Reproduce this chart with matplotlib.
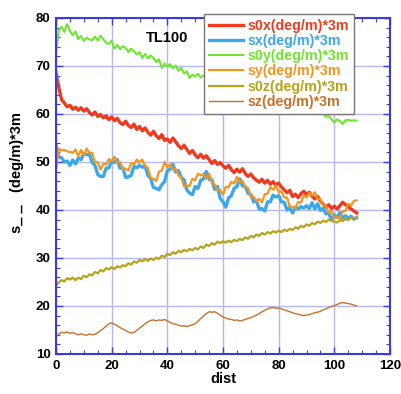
import matplotlib
matplotlib.use("Agg")
import matplotlib.pyplot as plt
from matplotlib.ticker import MultipleLocator

dist = list(range(0, 109))

s0x = [68.6, 65.5, 63.0, 62.3, 61.5, 61.8, 61.0, 61.4, 60.8, 61.3,
       60.6, 61.1, 60.3, 59.8, 60.4, 59.5, 59.9, 59.2, 59.6, 58.8,
       59.4, 58.6, 59.1, 58.2, 57.8, 58.5, 57.6, 57.2, 57.9, 56.8,
       57.4, 56.5, 57.1, 56.2, 55.6, 56.4, 55.5, 54.9, 55.7, 54.5,
       54.8, 54.1, 55.0, 54.2, 53.4, 52.8, 53.5, 52.6, 51.8, 52.4,
       51.5, 50.9, 51.6, 50.8, 51.3, 50.5, 49.7, 50.3, 49.5, 49.9,
       49.2, 48.7, 49.3, 48.4, 47.8, 48.5, 47.9, 48.6, 47.6, 47.0,
       47.5, 46.7, 46.2, 45.8, 46.4, 45.6, 46.2, 45.4, 45.9, 45.2,
       45.6, 44.8, 44.2, 43.6, 44.1, 42.8, 43.3, 42.6, 43.4, 43.9,
       43.2, 43.7, 42.9, 42.3, 42.8, 41.9, 41.2, 40.6, 41.1, 40.3,
       40.8, 40.2, 40.9, 41.6, 41.1, 40.7, 40.2, 39.8, 39.4]

sx = [53.5, 51.0, 50.9, 50.0, 50.2, 49.3, 50.4, 49.6, 50.8, 50.5,
      51.8, 51.5, 51.6, 49.9, 49.3, 47.4, 47.0, 47.0, 48.7, 48.8,
      50.2, 49.9, 50.5, 48.7, 48.8, 46.8, 46.9, 47.2, 49.1, 48.8,
      49.3, 48.9, 49.2, 47.2, 46.6, 44.7, 44.5, 44.2, 45.3, 45.9,
      48.2, 48.5, 49.5, 47.9, 48.2, 46.8, 46.3, 44.2, 43.5, 43.2,
      44.9, 44.5, 46.2, 46.5, 48.0, 46.4, 46.3, 44.3, 44.9, 42.4,
      41.7, 40.6, 42.5, 43.0, 44.5, 44.9, 46.5, 45.0, 44.9, 43.5,
      43.2, 41.7, 41.9, 40.2, 40.3, 39.8, 41.7, 41.7, 43.1, 42.7,
      43.0, 41.7, 41.6, 40.0, 40.5, 39.4, 40.6, 40.2, 40.7, 40.4,
      40.9, 40.3, 41.5, 40.2, 41.3, 39.9, 40.3, 39.2, 39.3, 38.0,
      39.0, 38.4, 39.5, 38.3, 38.8, 38.2, 38.7, 38.1, 38.4]

s0y = [72.5, 77.4, 78.2, 77.1, 78.7, 77.3, 76.4, 77.2, 75.6, 76.3,
       75.2, 75.9, 75.5, 75.4, 76.1, 75.3, 76.3, 75.6, 74.8, 74.6,
       75.3, 73.6, 74.4, 73.5, 74.1, 73.8, 72.9, 73.6, 73.1, 72.4,
       72.9, 71.7, 72.5, 71.6, 72.2, 71.7, 70.8, 71.4, 69.6, 70.5,
       69.8, 70.4, 69.5, 70.1, 69.0, 69.6, 68.4, 68.9, 67.5, 68.2,
       67.8, 68.4, 67.6, 68.1, 67.2, 67.8, 66.9, 67.4, 66.5, 66.9,
       66.2, 66.7, 65.8, 66.3, 65.4, 65.9, 65.1, 65.5, 64.7, 65.1,
       64.3, 64.8, 63.9, 64.4, 63.6, 64.1, 63.2, 63.6, 62.8, 63.2,
       62.4, 62.9, 62.1, 62.5, 61.6, 61.1, 61.2, 60.5, 61.1, 60.1,
       60.6, 60.9, 60.4, 60.8, 60.2, 60.7, 60.1, 59.4, 59.6, 58.9,
       58.2, 58.9, 58.5, 57.9, 58.7, 58.8, 58.6, 58.7, 58.6]

sy = [48.2, 52.8, 52.4, 52.5, 52.2, 52.1, 51.9, 52.6, 51.2, 52.5,
      51.3, 52.8, 51.9, 51.9, 49.9, 50.0, 48.4, 49.6, 49.5, 50.6,
      50.1, 51.1, 49.8, 50.0, 48.5, 48.6, 48.2, 49.8, 49.5, 50.5,
      49.9, 50.5, 49.2, 48.8, 46.7, 46.5, 46.0, 48.0, 48.2, 50.0,
      48.9, 49.5, 48.4, 48.5, 47.2, 46.8, 44.9, 45.1, 45.0, 46.5,
      46.2, 47.6, 47.2, 47.5, 46.5, 47.6, 45.7, 45.3, 44.0, 44.2,
      43.2, 44.8, 44.7, 45.9, 45.5, 46.9, 45.8, 46.1, 44.7, 44.6,
      42.7, 42.8, 41.8, 42.3, 41.6, 43.3, 43.4, 44.8, 44.2, 45.1,
      43.7, 43.9, 42.6, 42.6, 40.7, 40.7, 40.4, 41.7, 41.5, 43.0,
      42.6, 43.6, 43.0, 43.7, 42.2, 42.3, 40.9, 40.9, 39.4, 39.7,
      38.3, 38.6, 38.2, 39.7, 39.8, 41.3, 40.9, 41.9, 42.0]

s0z = [24.3, 24.9, 25.4, 25.1, 25.8, 25.5, 25.9, 25.4, 25.9, 25.6,
       26.3, 26.0, 26.6, 26.4, 27.1, 26.8, 27.5, 27.2, 27.9, 27.6,
       28.1, 27.7, 28.3, 28.0, 28.5, 28.3, 28.9, 28.6, 29.3, 29.0,
       29.6, 29.3, 29.8, 29.4, 29.9, 29.6, 30.1, 29.8, 30.5, 30.2,
       30.9, 30.6, 31.2, 30.9, 31.5, 31.2, 31.7, 31.4, 31.9, 31.6,
       32.1, 31.8, 32.4, 32.1, 32.8, 32.5, 33.1, 32.8, 33.4, 33.1,
       33.5, 33.2, 33.6, 33.3, 33.8, 33.5, 34.0, 33.7, 34.3, 34.0,
       34.6, 34.3, 34.9, 34.6, 35.2, 34.9, 35.4, 35.1, 35.6, 35.3,
       35.7, 35.4, 35.9, 35.6, 36.1, 35.8, 36.4, 36.1, 36.7, 36.4,
       37.0, 36.7, 37.3, 37.0, 37.6, 37.3, 37.8, 37.5, 38.0, 37.7,
       37.6, 37.4, 37.9, 37.7, 38.1, 37.9, 38.4, 38.2, 38.5]

sz = [13.5, 14.2, 14.5, 14.4, 14.6, 14.3, 14.5, 14.2, 14.0, 14.2,
      14.0, 13.9, 14.2, 14.0, 14.1, 14.4, 14.9, 15.3, 15.8, 16.3,
      16.5, 16.2, 15.9, 15.5, 15.2, 14.9, 14.6, 14.4, 14.5, 14.9,
      15.4, 15.8, 16.3, 16.7, 17.0, 17.1, 16.9, 17.1, 17.0, 17.2,
      16.9, 16.6, 16.3, 16.2, 16.0, 15.8, 15.9, 15.7, 15.9, 16.1,
      16.3, 16.8, 17.4, 17.9, 18.4, 18.8, 18.7, 18.8, 18.5, 18.1,
      17.7, 17.5, 17.3, 17.2, 17.0, 17.1, 16.9, 17.0, 17.2, 17.4,
      17.6, 17.8, 18.1, 18.4, 18.8, 19.1, 19.4, 19.6, 19.7, 19.5,
      19.6, 19.4, 19.2, 19.0, 18.8, 18.6, 18.4, 18.3, 18.1, 18.0,
      18.1, 18.2, 18.4, 18.6, 18.7, 18.9, 19.2, 19.4, 19.7, 19.9,
      20.1, 20.3, 20.6, 20.7, 20.6, 20.5, 20.4, 20.2, 20.0]

labels = ["s0x(deg/m)*3m", "sx(deg/m)*3m", "s0y(deg/m)*3m",
          "sy(deg/m)*3m", "s0z(deg/m)*3m", "sz(deg/m)*3m"]
series = [s0x, sx, s0y, sy, s0z, sz]
colors = ["#ee3b1f", "#3aa8ea", "#6ee62e", "#f7941e", "#b8a21a", "#c8702a"]
widths = [2.4, 2.4, 1.5, 1.6, 1.6, 1.0]

plt.rcParams['font.family'] = ['Liberation Sans', 'DejaVu Sans']
plt.rcParams['font.weight'] = 'bold'

fig = plt.figure(figsize=(4.01, 3.94), dpi=100)
ax = fig.add_axes([56/401, 1 - 354/394, (390 - 56)/401, (354 - 18)/394])

for y, lab, c, w in zip(series, labels, colors, widths):
    ax.plot(dist, y, color=c, lw=w, label=lab)

ax.set_xlim(0, 120)
ax.set_ylim(10, 80)
ax.xaxis.set_major_locator(MultipleLocator(20))
ax.xaxis.set_minor_locator(MultipleLocator(5))
ax.yaxis.set_major_locator(MultipleLocator(10))
ax.yaxis.set_minor_locator(MultipleLocator(2))

spine_c = "#3b3bd6"
grid_c = "#b4b8f0"
for s in ax.spines.values():
    s.set_color(spine_c)
    s.set_linewidth(1.5)
ax.grid(True, which='major', color=grid_c, lw=1.0)
ax.set_axisbelow(True)
ax.tick_params(which='both', direction='in', top=True, right=True, color=spine_c,
               labelsize=9.5, pad=4)
ax.tick_params(which='major', length=5, width=1)
ax.tick_params(which='minor', length=3, width=0.8)
for t in ax.get_xticklabels() + ax.get_yticklabels():
    t.set_fontweight('bold')

ax.set_xlabel("dist", fontsize=10.5, fontweight='bold', labelpad=0)
ax.set_ylabel("s_ _   (deg/m)*3m", fontsize=10.5, fontweight='bold')
ax.yaxis.set_label_coords(-0.095, 0.54)

ax.text(0.333, 0.94, "TL100", transform=ax.transAxes, fontsize=10.5, fontweight='bold',
        ha='center', va='center')

leg = ax.legend(loc='upper left', bbox_to_anchor=(0.443, 1.012), frameon=True,
                fancybox=False, edgecolor='#777777', framealpha=1.0,
                labelcolor='linecolor', prop={'size': 10.3, 'weight': 'bold'},
                handlelength=2.4, handletextpad=0.3, labelspacing=0.08,
                borderpad=0.35, borderaxespad=0)
leg.get_frame().set_linewidth(1.0)
leg.set_zorder(5)

fig.savefig("out.png", dpi=100)
